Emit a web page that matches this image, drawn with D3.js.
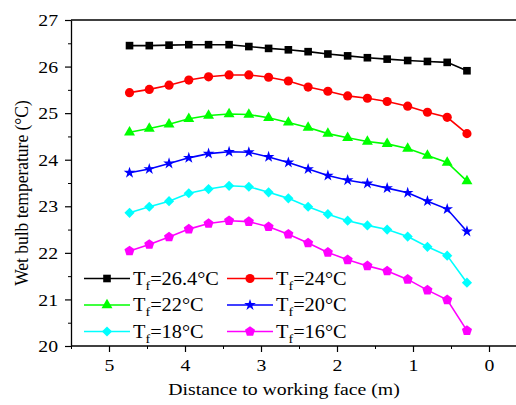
<!DOCTYPE html>
<html>
<head>
<meta charset="utf-8">
<script src="https://cdn.jsdelivr.net/npm/d3@7"></script>
<style>
  html, body { margin: 0; padding: 0; background: #fff; }
  svg { display: block; }
</style>
</head>
<body>
<svg id="chart" width="516" height="405"></svg>
<script>
// Distance from the working face (m) for each measuring point
const distance = [4.73, 4.47, 4.21, 3.95, 3.69, 3.42, 3.16, 2.90, 2.64, 2.38, 2.12, 1.86, 1.60, 1.34, 1.07, 0.81, 0.55, 0.29];

// Wet bulb temperature (°C) for each supply air temperature Tf
const tf264 = [26.45, 26.45, 26.46, 26.47, 26.47, 26.47, 26.43, 26.39, 26.36, 26.32, 26.27, 26.23, 26.19, 26.16, 26.13, 26.11, 26.09, 25.91];
const tf24  = [25.44, 25.51, 25.60, 25.71, 25.78, 25.82, 25.82, 25.77, 25.69, 25.56, 25.47, 25.37, 25.32, 25.25, 25.15, 25.02, 24.91, 24.56];
const tf22  = [24.59, 24.67, 24.76, 24.88, 24.95, 24.98, 24.97, 24.90, 24.80, 24.69, 24.56, 24.47, 24.39, 24.34, 24.24, 24.09, 23.94, 23.54];
const tf20  = [23.72, 23.80, 23.92, 24.04, 24.13, 24.17, 24.16, 24.06, 23.94, 23.80, 23.66, 23.56, 23.49, 23.39, 23.29, 23.11, 22.94, 22.46];
const tf18  = [22.86, 22.99, 23.11, 23.28, 23.37, 23.44, 23.42, 23.30, 23.17, 22.99, 22.83, 22.69, 22.59, 22.50, 22.35, 22.13, 21.94, 21.36];
const tf16  = [22.04, 22.18, 22.34, 22.51, 22.63, 22.69, 22.67, 22.56, 22.40, 22.21, 22.01, 21.85, 21.72, 21.61, 21.43, 21.20, 20.99, 20.33];

const seriesNames = ["26.4", "24", "22", "20", "18", "16"];
const xTicks = [5, 4, 3, 2, 1, 0];
const yTicks = [20, 21, 22, 23, 24, 25, 26, 27];

const seriesValues = [tf264, tf24, tf22, tf20, tf18, tf16];
const colors = ["#000000", "#ff0000", "#00ff00", "#0000ff", "#00ffff", "#ff00ff"];
const FONT = "Liberation Serif";
const STRETCH = 1.13;   // glyphs are drawn slightly wide

const svg = d3.select("#chart");
const plotLeft = 71, plotTop = 20, plotBottom = 346;

const x = d3.scaleLinear().domain([5.5, -0.5]).range([plotLeft, plotLeft + 6 * 76]);
const y = d3.scaleLinear().domain([20, 27]).range([plotBottom, plotTop]);

// Marker shapes
function pentagon(r) {
  const pts = d3.range(5).map(i => {
    const a = -Math.PI / 2 + i * 2 * Math.PI / 5;
    return [r * Math.cos(a), r * Math.sin(a)];
  });
  return "M" + pts.map(p => p.join(",")).join("L") + "Z";
}
const markerPaths = [
  d3.symbol(d3.symbolSquare, 58)(),
  d3.symbol(d3.symbolCircle, 66)(),
  d3.symbol(d3.symbolTriangle, 52)(),
  d3.symbol(d3.symbolStar, 42)(),
  null,
  pentagon(5.3)
];
function drawMarker(g, i, cx, cy) {
  if (i === 4) {
    g.append("path")
      .attr("d", d3.symbol(d3.symbolSquare, 52)())
      .attr("transform", `translate(${cx},${cy}) rotate(45)`)
      .attr("fill", colors[i]);
  } else {
    g.append("path")
      .attr("d", markerPaths[i])
      .attr("transform", `translate(${cx},${cy})`)
      .attr("fill", colors[i]);
  }
}

// Frame line along the top (runs past the right edge)
svg.append("line").attr("x1", plotLeft).attr("x2", 540).attr("y1", plotTop).attr("y2", plotTop)
  .attr("stroke", "#000").attr("stroke-width", 1.3);

// Minor ticks
svg.append("g").attr("transform", `translate(0,${plotBottom})`)
  .call(d3.axisBottom(x).tickValues([5.5, 4.5, 3.5, 2.5, 1.5, 0.5, -0.5]).tickSize(3).tickFormat(""))
  .call(g => g.select(".domain").remove());
svg.append("g").attr("transform", `translate(${plotLeft},0)`)
  .call(d3.axisLeft(y).tickValues(d3.range(20.5, 27, 1)).tickSize(3).tickFormat(""))
  .call(g => g.select(".domain").remove());

// Major axes
const xAxis = svg.append("g").attr("transform", `translate(0,${plotBottom})`)
  .call(d3.axisBottom(x).tickValues(xTicks).tickSize(6).tickSizeOuter(0).tickPadding(7).tickFormat(d3.format("d")));
const yAxis = svg.append("g").attr("transform", `translate(${plotLeft},0)`)
  .call(d3.axisLeft(y).tickValues(yTicks).tickSize(6).tickSizeOuter(0).tickPadding(5.5).tickFormat(d3.format("d")));

[xAxis, yAxis].forEach(ax => {
  ax.attr("font-family", FONT).attr("font-size", 17.5);
  ax.selectAll(".domain").attr("stroke-width", 1.3);
  ax.selectAll(".tick line").attr("stroke-width", 1.2);
  ax.selectAll(".tick text")
    .attr("font-family", FONT)
    .attr("font-size", 17.5)
    .attr("fill", "#000")
    .attr("transform", `scale(${STRETCH},1)`);
});
xAxis.select(".domain").attr("d", `M${plotLeft},0H540`);

// Axis titles
svg.append("text")
  .attr("transform", `translate(284,395) scale(${STRETCH},1)`)
  .attr("text-anchor", "middle")
  .attr("font-family", FONT)
  .attr("font-size", 17.5)
  .text("Distance to working face (m)");
svg.append("text")
  .attr("transform", `translate(28,193) scale(${STRETCH},1) rotate(-90)`)
  .attr("text-anchor", "middle")
  .attr("font-family", FONT)
  .attr("font-size", 17.5)
  .text("Wet bulb temperature (°C)");

// Series lines and markers
const line = d3.line().x((d, j) => x(distance[j])).y(d => y(d));
seriesValues.forEach((vals, i) => {
  const g = svg.append("g");
  g.append("path").attr("d", line(vals))
    .attr("fill", "none").attr("stroke", colors[i]).attr("stroke-width", 1.6);
  vals.forEach((v, j) => drawMarker(g, i, x(distance[j]), y(v)));
});

// Legend: three rows, two columns
const legendCols = [84, 227];
const legendRows = [278.5, 305, 331.5];
seriesNames.forEach((name, i) => {
  const cx = legendCols[i % 2], cy = legendRows[Math.floor(i / 2)];
  const g = svg.append("g");
  g.append("line").attr("x1", cx).attr("x2", cx + 46).attr("y1", cy).attr("y2", cy)
    .attr("stroke", colors[i]).attr("stroke-width", 1.6);
  drawMarker(g, i, cx + 23, cy);
  const t = g.append("text")
    .attr("transform", `translate(${cx + 49},${cy + 6}) scale(${STRETCH},1)`)
    .attr("font-family", FONT)
    .attr("font-size", 18);
  t.append("tspan").text("T");
  t.append("tspan").attr("dy", 5).attr("font-size", 12.5).text("f");
  t.append("tspan").attr("dy", -5).text(`=${name}°C`);
});
</script>
</body>
</html>
